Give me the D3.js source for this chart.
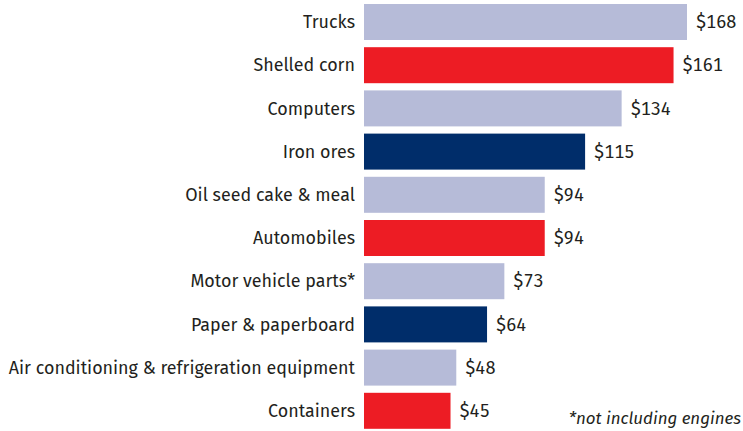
<!DOCTYPE html>
<html>
<head>
<meta charset="utf-8">
<script src="https://cdn.jsdelivr.net/npm/d3@7"></script>
<style>
body { margin: 0; background: #fff; }
text { font-family: "Fira Sans", Roboto, "Noto Sans", sans-serif; fill: #231f20; }
.val { font-variant-numeric: tabular-nums; }
</style>
</head>
<body>
<div id="chart"></div>
<script>
var categories = ["Trucks", "Shelled corn", "Computers", "Iron ores", "Oil seed cake & meal",
    "Automobiles", "Motor vehicle parts*", "Paper & paperboard",
    "Air conditioning & refrigeration equipment", "Containers"];
var values = [168, 161, 134, 115, 94, 94, 73, 64, 48, 45];
var groups = ["other", "farm", "other", "mine", "other", "farm", "other", "mine", "other", "farm"];
var footnote = "*not including engines";

var svg = d3.select("#chart").append("svg").attr("width", 743).attr("height", 431);

var x = d3.scaleLinear().domain([0, 168]).range([364, 687]);
var y = d3.scaleBand().domain(categories).range([0.4, 432.4])
    .paddingInner(7.2 / 43.2).paddingOuter(3.6 / 43.2);
var z = d3.scaleOrdinal().domain(["other", "farm", "mine"]).range(["#b6bbd8", "#ed1c24", "#002d6a"]);

var rows = svg.selectAll(".gr")
    .data(categories)
    .enter().append("g")
    .attr("class", "gr")
    .attr("transform", function (d) { return "translate(0," + y(d) + ")"; });

rows.append("rect")
    .attr("x", x(0))
    .attr("y", 0)
    .attr("height", y.bandwidth())
    .attr("width", function (d, i) { return x(values[i]) - x(0); })
    .attr("fill", function (d, i) { return z(groups[i]); });

rows.append("text")
    .attr("x", 355)
    .attr("y", y.bandwidth() / 2)
    .attr("dy", "0.35em")
    .attr("text-anchor", "end")
    .style("font-size", "17.9px")
    .text(function (d) { return d; });

rows.append("text")
    .attr("class", "val")
    .attr("x", function (d, i) { return x(values[i]) + 9; })
    .attr("y", y.bandwidth() / 2)
    .attr("dy", "0.35em")
    .style("font-size", "18px")
    .text(function (d, i) { return "$" + values[i]; });

svg.append("text")
    .attr("x", 741)
    .attr("y", 424)
    .attr("text-anchor", "end")
    .style("font-size", "16.9px")
    .style("font-style", "italic")
    .text(footnote);
</script>
</body>
</html>
